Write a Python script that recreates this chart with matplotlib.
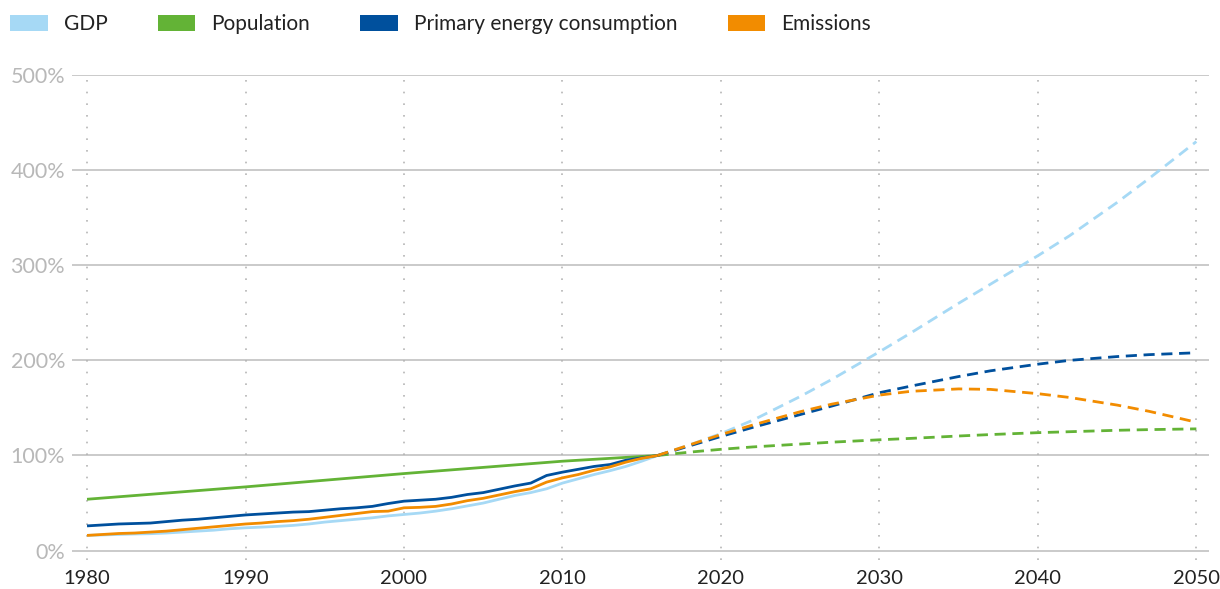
import numpy as np
import matplotlib.pyplot as plt
from matplotlib.patches import Patch

plt.rcParams['font.family'] = ['Lato', 'DejaVu Sans']

# historical, indexed to 2016 = 100%
hist_years = list(range(1980, 2017))
gdp_hist = [16, 16.5, 17, 17.5, 17.8, 18.5, 19.5, 20.5, 21.5, 23, 24,
            24.7, 25.5, 26.5, 28, 30, 31.5, 33, 34.5, 36.5, 38,
            39.5, 41.5, 44, 47, 50, 54, 58, 61, 65, 71,
            75.5, 80, 84, 88.5, 94, 100]
pop_hist = [54, 55.3, 56.6, 57.9, 59.2, 60.5, 61.8, 63.1, 64.4, 65.7, 67,
            68.4, 69.8, 71.2, 72.6, 74, 75.4, 76.8, 78.2, 79.6, 81,
            82.3, 83.6, 84.9, 86.2, 87.5, 88.8, 90.1, 91.4, 92.7, 94,
            95, 96, 97, 98, 99, 100]
energy_hist = [26, 27, 28, 28.5, 29, 30.5, 32, 33, 34.5, 36, 37.5,
               38.5, 39.5, 40.5, 41, 42.5, 44, 45, 46.5, 49.5, 52,
               53, 54, 56, 59, 61, 64.5, 68, 71, 79, 82.5,
               85.5, 88.5, 90.5, 95, 97.5, 100]
emis_hist = [16, 17, 18, 18.5, 19.5, 20.5, 22, 23.5, 25, 26.5, 28,
             29, 30.5, 31.5, 33, 35, 37, 39, 41, 41.5, 45,
             45.5, 46.5, 49, 52.5, 55, 58.5, 62, 65, 72, 76.5,
             80, 84.5, 88, 93, 97, 100]

# projections
proj_years = [2016, 2018, 2020, 2022, 2025, 2027, 2030, 2032, 2035,
              2037, 2040, 2042, 2045, 2047, 2050]
gdp_proj = [100, 111, 123, 137, 162, 180, 209, 229, 260,
            280, 310, 331, 366, 391, 430]
pop_proj = [100, 103.5, 106.5, 109, 112, 114, 116.5, 118, 120.5,
            122, 124, 125, 126.5, 127.2, 128]
energy_proj = [100, 110, 120, 129.5, 143, 152, 166, 173, 183,
               189, 196, 200, 204, 206, 208]
emis_proj = [100, 111, 122, 132, 146, 154, 163.5, 167.5, 170,
             169.5, 165, 161, 153, 146.5, 135]

names = ['GDP', 'Population', 'Primary energy consumption', 'Emissions']
colors = ['#a6d9f5', '#63b336', '#00509d', '#f28c00']

fig = plt.figure(figsize=(12.2, 5.89), dpi=100)
ax = fig.add_axes([0.059, 0.049, 0.932, 0.8237])

hists = [gdp_hist, pop_hist, energy_hist, emis_hist]
projs = [gdp_proj, pop_proj, energy_proj, emis_proj]
for h, p, c in zip(hists, projs, colors):
    ax.plot(hist_years, h, color=c, lw=2.0, solid_capstyle='butt', zorder=3)
    ax.plot(proj_years, p, color=c, lw=2.0, linestyle=(0, (4, 2.4)), zorder=3)

ax.set_xlim(1979.05, 2050.8)
ax.set_ylim(-10, 500)
ax.set_xticks(range(1980, 2051, 10))
ax.set_yticks(range(0, 501, 100))
ax.set_yticklabels([f'{v}%' for v in range(0, 501, 100)])

for s in ax.spines.values():
    s.set_visible(False)
ax.tick_params(length=0)
ax.tick_params(axis='y', labelsize=15.5, labelcolor='#b8b8b8', pad=5)
ax.tick_params(axis='x', labelsize=14.5, labelcolor='#222222', pad=7)

for v in range(0, 501, 100):
    ax.axhline(v, color='#c6c6c6', lw=1.3, zorder=1)
for yr in range(1980, 2051, 10):
    ax.axvline(yr, color='#b5b5b5', lw=1.2, linestyle=(0, (1, 6)), zorder=1)

handles = [Patch(facecolor=c, edgecolor='none') for c in colors]
fig.legend(handles, names, loc='upper left', bbox_to_anchor=(0.0082, 0.976),
           ncol=4, frameon=False, fontsize=15, handlelength=1.8,
           handleheight=0.82, handletextpad=0.77, columnspacing=2.42,
           borderpad=0, borderaxespad=0, labelcolor='#222222')

fig.savefig('out.png', dpi=100)
